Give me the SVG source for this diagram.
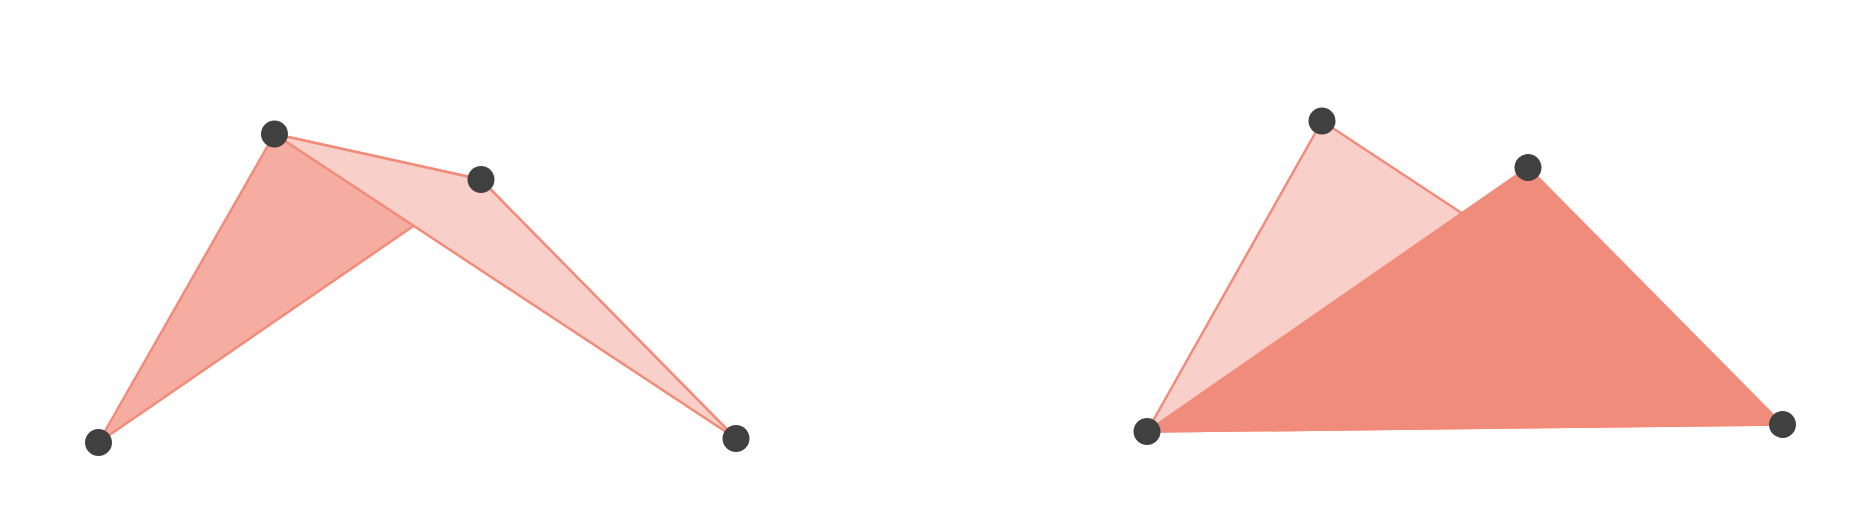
<svg xmlns="http://www.w3.org/2000/svg" width="1876" height="521" viewBox="0 0 1876 521">
<style>
.tri{stroke:#f28b79;stroke-width:2.5;stroke-linejoin:round}
.mid{fill:#f4ada0}
.light{fill:#f9d0c9}
.dark{fill:#f08c7b}
.pt{fill:#404040}
</style>
<rect width="1876" height="521" fill="#ffffff"/>
<g id="left">
<polygon class="tri mid" points="98.5,442.5 274.5,134 481,179.5"/>
<polygon class="tri light" points="274.5,134 481,179.5 736,438.5"/>
</g>
<g id="right">
<polygon class="tri light" points="1147,431.5 1322,121 1782.5,424.5"/>
<polygon class="tri dark" points="1147,431.5 1528,167.5 1782.5,424.5"/>
</g>
<g id="points">
<circle class="pt" cx="98.5" cy="442.5" r="13.5"/>
<circle class="pt" cx="274.5" cy="134" r="13.5"/>
<circle class="pt" cx="481" cy="179.5" r="13.5"/>
<circle class="pt" cx="736" cy="438.5" r="13.5"/>
<circle class="pt" cx="1147" cy="431.5" r="13.5"/>
<circle class="pt" cx="1322" cy="121" r="13.5"/>
<circle class="pt" cx="1528" cy="167.5" r="13.5"/>
<circle class="pt" cx="1782.5" cy="424.5" r="13.5"/>
</g>
</svg>
